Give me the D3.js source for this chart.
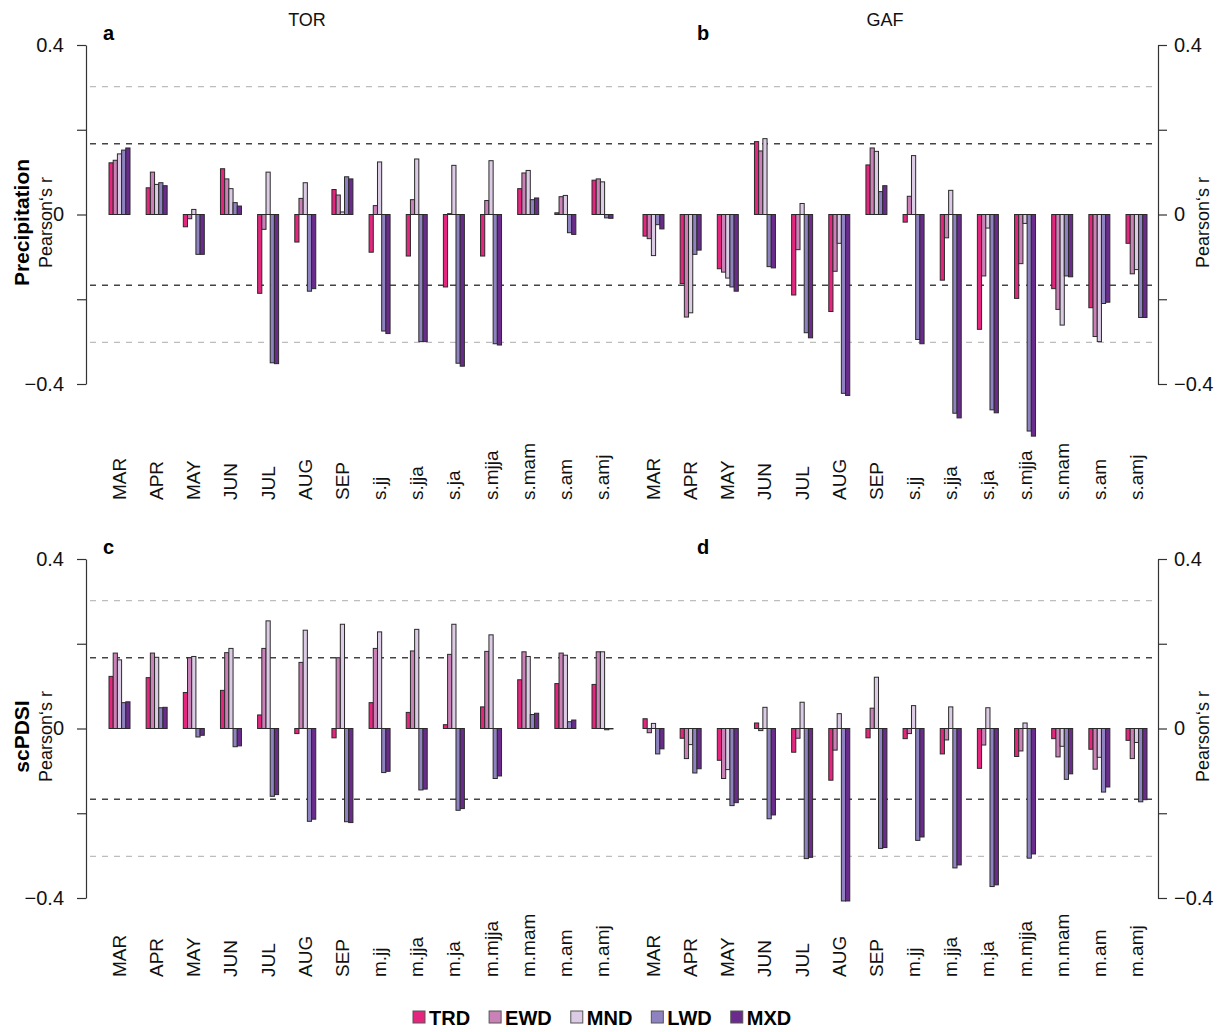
<!DOCTYPE html>
<html><head><meta charset="utf-8">
<script src="https://cdn.jsdelivr.net/npm/d3@7"></script>
<style>body{margin:0;background:#fff;} text{font-family:"Liberation Sans",Arial,sans-serif;}</style>
</head><body>
<svg id="chart" width="1222" height="1032"></svg>
<script>
const series = ["TRD","EWD","MND","LWD","MXD"];
const colors = ["#e5267f","#c981b8","#dccbe5","#8e83c0","#6a2b8c"];
const catsPrecip = ["MAR","APR","MAY","JUN","JUL","AUG","SEP","s.jj","s.jja","s.ja","s.mjja","s.mam","s.am","s.amj"];
const catsPdsi = ["MAR","APR","MAY","JUN","JUL","AUG","SEP","m.jj","m.jja","m.ja","m.mjja","m.mam","m.am","m.amj"];
const siteTitles = ["TOR","GAF"];
const panelLetters = ["a","b","c","d"];
const rowTitles = ["Precipitation","scPDSI"];
const yTicks = [-0.4,-0.2,0,0.2,0.4];
const yTickLabels = {"-0.4":"\u22120.4","0":"0","0.4":"0.4"};
const sigLevels = [0.167,-0.167];
const sigLevels2 = [0.302,-0.302];

// rows: categories, columns: TRD, EWD, MND, LWD, MXD
const precipTOR = [
  [0.122,0.128,0.143,0.152,0.157],
  [0.063,0.100,0.071,0.075,0.068],
  [-0.029,-0.010,0.012,-0.094,-0.094],
  [0.108,0.084,0.061,0.028,0.020],
  [-0.186,-0.035,0.100,-0.350,-0.352],
  [-0.065,0.038,0.075,-0.181,-0.175],
  [0.059,0.046,0.006,0.089,0.084],
  [-0.089,0.021,0.124,-0.275,-0.281],
  [-0.098,0.035,0.131,-0.300,-0.300],
  [-0.171,0.002,0.116,-0.351,-0.358],
  [-0.098,0.033,0.127,-0.305,-0.308],
  [0.061,0.098,0.104,0.035,0.039],
  [0.004,0.042,0.045,-0.043,-0.047],
  [0.081,0.084,0.077,-0.008,-0.009]
];
const precipGAF = [
  [-0.051,-0.057,-0.097,-0.024,-0.034],
  [-0.163,-0.242,-0.232,-0.094,-0.084],
  [-0.128,-0.136,-0.150,-0.171,-0.181],
  [0.172,0.150,0.179,-0.123,-0.126],
  [-0.190,-0.083,0.026,-0.279,-0.291],
  [-0.229,-0.134,-0.068,-0.422,-0.427],
  [0.117,0.157,0.149,0.054,0.068],
  [-0.018,0.043,0.139,-0.295,-0.305],
  [-0.155,-0.055,0.057,-0.469,-0.480],
  [-0.271,-0.145,-0.032,-0.461,-0.468],
  [-0.198,-0.116,-0.021,-0.511,-0.523],
  [-0.175,-0.224,-0.261,-0.145,-0.147],
  [-0.220,-0.288,-0.300,-0.210,-0.207],
  [-0.068,-0.140,-0.130,-0.243,-0.243]
];
const pdsiTOR = [
  [0.123,0.178,0.162,0.061,0.063],
  [0.120,0.178,0.168,0.049,0.050],
  [0.085,0.167,0.170,-0.020,-0.016],
  [0.090,0.179,0.189,-0.043,-0.041],
  [0.032,0.189,0.254,-0.160,-0.156],
  [-0.012,0.156,0.232,-0.219,-0.214],
  [-0.022,0.167,0.246,-0.220,-0.222],
  [0.061,0.189,0.228,-0.104,-0.101],
  [0.038,0.183,0.234,-0.145,-0.143],
  [0.009,0.175,0.246,-0.193,-0.189],
  [0.051,0.182,0.221,-0.118,-0.112],
  [0.115,0.181,0.170,0.033,0.036],
  [0.106,0.178,0.173,0.016,0.020],
  [0.104,0.181,0.181,-0.003,-0.001]
];
const pdsiGAF = [
  [0.023,-0.010,0.012,-0.060,-0.048],
  [-0.023,-0.071,-0.038,-0.105,-0.095],
  [-0.075,-0.118,-0.097,-0.182,-0.175],
  [0.013,-0.005,0.050,-0.213,-0.204],
  [-0.056,-0.023,0.062,-0.307,-0.304],
  [-0.122,-0.051,0.035,-0.407,-0.407],
  [-0.022,0.048,0.121,-0.283,-0.281],
  [-0.024,-0.012,0.054,-0.264,-0.256],
  [-0.060,-0.027,0.051,-0.329,-0.322],
  [-0.094,-0.039,0.049,-0.373,-0.369],
  [-0.066,-0.053,0.013,-0.306,-0.296],
  [-0.024,-0.067,-0.042,-0.120,-0.107],
  [-0.049,-0.096,-0.068,-0.150,-0.138],
  [-0.028,-0.071,-0.033,-0.173,-0.168]
];

const svg = d3.select("#chart");
const FONT = "Liberation Sans, Arial, sans-serif";

const rows = [
  {cats: catsPrecip, data: [precipTOR, precipGAF], yTop: 45, yBot: 384, labelBase: 500, title: rowTitles[0]},
  {cats: catsPdsi, data: [pdsiTOR, pdsiGAF], yTop: 559, yBot: 898, labelBase: 977, title: rowTitles[1]}
];
const colRanges = [[109, 613], [643, 1147]];
const axisLeftX = 86, axisRightX = 1158;
const lineRange = [90, 1158];

rows.forEach((row, ri) => {
  const y = d3.scaleLinear().domain([-0.4, 0.4]).range([row.yBot, row.yTop]);
  const g = svg.append("g");

  sigLevels2.forEach(v => {
    g.append("line").attr("x1", lineRange[0]).attr("x2", lineRange[1])
      .attr("y1", y(v)).attr("y2", y(v))
      .attr("stroke", "#bdbdbd").attr("stroke-width", 1.3).attr("stroke-dasharray", "6,6");
  });
  sigLevels.forEach(v => {
    g.append("line").attr("x1", lineRange[0]).attr("x2", lineRange[1])
      .attr("y1", y(v)).attr("y2", y(v))
      .attr("stroke", "#444").attr("stroke-width", 1.3).attr("stroke-dasharray", "6,6");
  });

  const fmt = d => yTickLabels[String(d)] || "";
  const axL = g.append("g").attr("transform", `translate(${axisLeftX},0)`)
    .call(d3.axisLeft(y).tickValues(yTicks).tickFormat(fmt).tickSize(9).tickPadding(13).tickSizeOuter(0));
  const axR = g.append("g").attr("transform", `translate(${axisRightX},0)`)
    .call(d3.axisRight(y).tickValues(yTicks).tickFormat(fmt).tickSize(9).tickPadding(7).tickSizeOuter(0));
  [axL, axR].forEach(ax => {
    ax.selectAll("path,line").attr("stroke", "#333").attr("stroke-width", 1.2);
    ax.selectAll("text").attr("font-size", 20).attr("fill", "#111").style("font-family", FONT);
  });

  const yc = (row.yTop + row.yBot) / 2 + 8;
  g.append("text").attr("transform", `translate(21,${yc}) rotate(-90)`)
    .attr("text-anchor", "middle").attr("dominant-baseline", "central")
    .attr("font-size", 21).attr("font-weight", "bold").attr("fill", "#000").text(row.title);
  g.append("text").attr("transform", `translate(46,${yc}) rotate(-90)`)
    .attr("text-anchor", "middle").attr("dominant-baseline", "central")
    .attr("font-size", 18).attr("fill", "#111").text("Pearson\u2018s r");
  g.append("text").attr("transform", `translate(1203,${yc}) rotate(-90)`)
    .attr("text-anchor", "middle").attr("dominant-baseline", "central")
    .attr("font-size", 18).attr("fill", "#111").text("Pearson\u2018s r");

  row.data.forEach((data, ci) => {
    const x0 = d3.scaleBand().domain(row.cats).range(colRanges[ci]).paddingInner(0.435).paddingOuter(0);
    const x1 = d3.scaleBand().domain(series).range([0, x0.bandwidth()]);
    const pg = g.append("g");
    const groups = pg.selectAll("g.grp").data(data).join("g")
      .attr("transform", (d, i) => `translate(${x0(row.cats[i])},0)`);
    groups.selectAll("rect").data(d => d.map((v, k) => ({v, k}))).join("rect")
      .attr("x", d => x1(series[d.k]))
      .attr("width", x1.bandwidth())
      .attr("y", d => y(Math.max(0, d.v)))
      .attr("height", d => Math.abs(y(d.v) - y(0)))
      .attr("fill", d => colors[d.k])
      .attr("stroke", "#2a2a2a").attr("stroke-width", 1);
    pg.selectAll("text.xl").data(row.cats).join("text")
      .attr("transform", d => `translate(${x0(d) + x0.bandwidth() / 2},${row.labelBase}) rotate(-90)`)
      .attr("text-anchor", "start").attr("dominant-baseline", "central")
      .attr("font-size", 19).attr("fill", "#111").text(d => d);
    pg.append("text").attr("x", ci === 0 ? 103 : 697).attr("y", row.yTop - 5)
      .attr("font-size", 20).attr("font-weight", "bold").attr("fill", "#000")
      .text(panelLetters[ri * 2 + ci]);
    if (ri === 0) {
      pg.append("text").attr("x", ci === 0 ? 307 : 885).attr("y", 26)
        .attr("text-anchor", "middle").attr("font-size", 18).attr("fill", "#111")
        .text(siteTitles[ci]);
    }
  });
});

const leg = svg.append("g");
let lx = 413;
series.forEach((s, i) => {
  leg.append("rect").attr("x", lx).attr("y", 1011).attr("width", 12).attr("height", 12)
    .attr("fill", colors[i]).attr("stroke", "#555").attr("stroke-width", 1);
  const t = leg.append("text").attr("x", lx + 16).attr("y", 1025)
    .attr("font-size", 20).attr("font-weight", "bold").attr("fill", "#000").text(s);
  lx += 16 + t.node().getComputedTextLength() + 19;
});
</script>
</body></html>
